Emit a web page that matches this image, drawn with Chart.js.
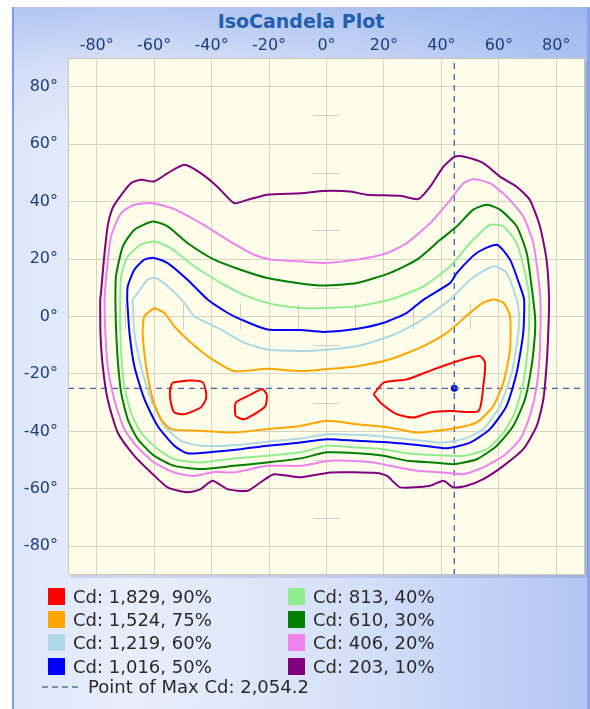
<!DOCTYPE html>
<html>
<head>
<meta charset="utf-8">
<title>IsoCandela Plot</title>
<script src="https://cdn.jsdelivr.net/npm/chart.js@4.4.1/dist/chart.umd.min.js"></script>
<style>
  html, body { margin: 0; padding: 0; background: #fff; }
  body { width: 590px; height: 709px; position: relative; overflow: hidden; font-family: "DejaVu Sans", sans-serif; }
  #panel {
    position: absolute; left: 12px; top: 7px; width: 573px; height: 702px;
    border-left: 2px solid #7f9de2; border-right: 3px solid #8aa5ea;
    background:
      linear-gradient(to bottom, rgba(140,170,235,0.55) 0px, rgba(140,170,235,0.15) 60px, rgba(140,170,235,0) 120px),
      linear-gradient(to right, #dde6f9 0%, #e9eefb 20%, #d5e0f8 60%, #b3c6f3 100%);
  }
  #title {
    position: absolute; left: 12px; width: 578px; top: 9px; text-align: center;
    font-weight: bold; font-size: 19px; line-height: 24px; color: #2160b0;
  }
  #chart { position: absolute; left: 0; top: 0; }
  .leg-row {
    position: absolute; height: 23px; display: flex; align-items: center;
    font-size: 18px; color: #2a2a2a; white-space: nowrap;
  }
  .swatch { width: 17px; height: 17px; margin-right: 8px; display: inline-block; }
  .dash { width: 40px; height: 2px; margin-right: 6px; display: inline-block;
    background: repeating-linear-gradient(to right, #8290b0 0 6px, transparent 6px 10px); }
</style>
</head>
<body>
<div id="panel"></div>
<div id="title">IsoCandela Plot</div>
<canvas id="chart" width="590" height="709"></canvas>
<div id="legend"></div>
<script>
(() => {
  'use strict'

  const axisMin = -90
  const axisMax = 90
  const xTickValues = [-80, -60, -40, -20, 0, 20, 40, 60, 80]
  const yTickValues = [-80, -60, -40, -20, 0, 20, 40, 60, 80]
  const minorTickValues = [-70, -50, -30, -10, 10, 30, 50, 70]

  const levelCd = [1829, 1524, 1219, 1016, 813, 610, 406, 203]
  const levelPct = [90, 75, 60, 50, 40, 30, 20, 10]
  const levelColors = ['#ff0000', '#ffa500', '#add8e6', '#0000ff', '#90ee90', '#008000', '#ee82ee', '#800080']

  const maxCd = 2054.2
  const maxPoint = [44.5, -25]

  // contour outlines, [horizontal angle, vertical angle]
  const cd1829a = [[-53.6,-23.0],[-48,-22.3],[-43.2,-22.8],[-42.0,-26],[-42.0,-28.8],[-43.8,-31.7],[-49.5,-34.0],[-53.0,-33.4],[-54.4,-28.8],[-54.4,-25]]
  const cd1829b = [[-22.3,-25.1],[-20.8,-27.1],[-21.2,-31.1],[-24.1,-33.4],[-28.7,-35.8],[-31.6,-34.6],[-31.6,-30.0],[-27.5,-27.7]]
  const cd1829c = [[16.4,-27.1],[19.9,-23.0],[28.0,-21.9],[37.3,-18.4],[47.7,-14.9],[53.5,-13.8],[55.2,-16.1],[54.6,-24.2],[52.9,-32.9],[43.1,-32.9],[36.1,-33.4],[30.3,-35.2],[24.5,-34.0],[18.8,-30.0]]

  const cd1524 = [[-60.0,3.0],[-56.5,1.3],[-53.0,-3.4],[-48.4,-8.0],[-41.4,-13.8],[-32.2,-19.0],[-20.6,-18.2],[-9.0,-19.0],[-0.9,-18.4],[10.7,-17.3],[22.2,-14.9],[33.8,-10.3],[41.9,-5.7],[50.0,1.3],[54.6,4.8],[58.1,5.9],[61.6,4.8],[63.9,0.1],[63.9,-11.5],[61.6,-23.0],[58.1,-31.1],[52.3,-36.9],[43.1,-39.2],[31.5,-40.4],[22.2,-38.7],[10.7,-37.5],[0.2,-36.3],[-9.0,-38.1],[-20.6,-39.2],[-32.2,-40.4],[-43.8,-39.8],[-54.2,-39.2],[-57.6,-35.8],[-60.5,-28.8],[-62.8,-17.3],[-64.0,-5.7],[-63.4,0.1]]

  const cd1219 = [[-67.5,5.9],[-65.7,8.2],[-62.3,12.8],[-59.4,13.4],[-55.3,10.5],[-49.5,4.8],[-46.1,0.1],[-41,-2.5],[-36.8,-4.5],[-28.7,-9.1],[-20.6,-11.5],[-9.0,-12.0],[-0.9,-11.7],[10.7,-10.3],[22.2,-6.8],[31.5,-2.2],[38.4,2.4],[43.1,5.9],[50.0,12.8],[58.1,17.5],[62.7,15.2],[66.2,5.9],[67.1,0],[66.8,-5.7],[64.5,-19.6],[60.4,-31.1],[54.6,-39.2],[47.7,-42.7],[39.6,-43.9],[28.0,-42.7],[16.4,-41.5],[0.2,-41.0],[-9.0,-42.5],[-20.6,-43.6],[-32.2,-44.8],[-43.8,-45.0],[-50.7,-43.3],[-56.5,-38.1],[-61.1,-28.8],[-64.6,-17.3],[-66.9,-5.7]]

  const cd1016 = [[-69.4,5.9],[-69.2,10.5],[-66.9,16.3],[-63.4,19.8],[-60.0,20.4],[-55.3,18.6],[-48.4,12.8],[-41.4,5.9],[-34.5,1.3],[-29.9,-1.0],[-20.6,-4.5],[-9.0,-4.7],[-0.9,-5.4],[10.7,-4.3],[19.9,-2.2],[28.0,1.3],[33.8,5.9],[43.1,11.7],[45.4,15.2],[52.3,22.1],[59.3,25.0],[63.9,19.8],[67.4,10.5],[68.8,5.9],[68.5,-5.7],[66.2,-19.6],[62.7,-31.1],[56.9,-39.2],[50.0,-43.9],[41.9,-45.9],[33.8,-45.0],[22.2,-43.9],[10.7,-43.3],[0.2,-42.7],[-9.0,-43.9],[-20.6,-45.0],[-29.9,-46.2],[-39.1,-47.1],[-48.4,-47.6],[-53.0,-45.0],[-58.8,-38.1],[-63.4,-28.8],[-66.9,-17.3],[-68.6,-5.7]]

  const cd813 = [[-71.9,-1.0],[-71.5,14.0],[-69.2,20.9],[-64.6,25.0],[-60.0,26.1],[-54.2,23.8],[-46.1,17.5],[-36.8,11.7],[-27.5,7.0],[-18.3,4.2],[-9.0,3.0],[-0.9,3.0],[10.7,3.6],[22.2,5.9],[33.8,10.5],[43.1,17.5],[50.0,25.6],[56.9,31.9],[61.6,31.4],[66.2,25.6],[69.1,15.2],[70.6,5.9],[70.3,-8.0],[68.5,-23.0],[65.6,-33.4],[61.6,-40.4],[55.8,-46.2],[47.7,-48.5],[38.4,-48.3],[28.0,-47.6],[19.9,-46.2],[10.7,-45.6],[0.2,-45.0],[-9.0,-47.3],[-20.6,-48.5],[-32.2,-49.4],[-43.8,-50.8],[-53.0,-49.7],[-58.8,-46.2],[-64.6,-40.4],[-68.1,-33.4],[-70.4,-24.2],[-71.5,-12.6]]

  const cd610 = [[-73.5,5.9],[-73.3,14.0],[-70.9,24.4],[-66.9,30.2],[-60.5,33.1],[-55.3,31.4],[-48.4,25.6],[-39.1,19.8],[-29.9,16.3],[-20.6,13.4],[-9.0,11.5],[-0.9,10.8],[10.7,11.7],[22.2,15.2],[31.5,19.8],[39.6,26.7],[45.4,31.4],[51.1,37.2],[55.8,38.9],[60.4,37.2],[66.2,31.4],[69.7,22.1],[71.4,10.5],[72.6,0],[72.6,-5.7],[71.4,-17.3],[69.1,-28.8],[65.0,-38.1],[59.3,-45.0],[52.3,-49.7],[44.2,-51.4],[37.3,-50.8],[28.0,-50.2],[19.9,-48.5],[10.7,-47.6],[0.2,-47.3],[-9.0,-49.4],[-20.6,-50.8],[-32.2,-52.0],[-43.8,-53.1],[-53.0,-52.0],[-60.0,-48.5],[-65.7,-42.7],[-69.2,-35.8],[-71.5,-26.5],[-72.7,-14.9],[-73.3,-3.4]]

  const cd406 = [[-77.3,5.9],[-76.7,14.0],[-75.0,27.9],[-71.5,36.0],[-66.9,38.9],[-61.1,39.5],[-53.0,37.4],[-43.8,32.5],[-34.5,26.7],[-25.2,21.5],[-19.4,19.8],[-9.0,19.2],[-0.9,18.6],[10.7,19.8],[21.1,22.1],[28.0,25.6],[36.1,32.5],[43.1,40.6],[47.7,46.4],[51.1,47.8],[56.9,46.4],[62.7,41.8],[68.5,34.8],[72.0,25.6],[73.7,14.0],[74.5,5.9],[74.3,-11.5],[73.2,-24.2],[70.8,-34.6],[67.4,-42.7],[61.6,-48.5],[54.6,-52.5],[47.7,-54.9],[40.7,-54.3],[31.5,-53.7],[22.2,-52.0],[16.4,-50.8],[1.4,-50.2],[-9.0,-52.0],[-20.6,-52.0],[-32.2,-54.3],[-39.1,-54.1],[-46.1,-55.5],[-53.0,-54.3],[-60.0,-50.8],[-65.7,-45.6],[-70.4,-39.2],[-73.9,-28.8],[-76.2,-17.3],[-77.1,-3.4]]

  const cd203 = [[-78.8,5.9],[-78.5,8.3],[-77.5,19.8],[-76.2,31.4],[-74.7,37.2],[-72.7,40.6],[-68.1,46.4],[-64.6,47.6],[-60.0,47.0],[-55.3,49.9],[-49.5,52.8],[-43.8,49.9],[-38.0,45.2],[-32.2,39.5],[-27.5,40.6],[-20.6,42.4],[-9.0,42.9],[-0.9,43.7],[8.3,43.5],[14.1,42.4],[25.7,42.0],[32.0,40.9],[36.1,45.2],[40.7,52.2],[44.8,55.7],[47.7,55.7],[54.6,53.4],[60.4,48.7],[66.2,45.2],[70.8,40.6],[74.3,31.4],[76.6,19.8],[77.5,5.9],[77.2,-5.7],[76.6,-17.3],[75.5,-28.8],[73.2,-38.1],[68.5,-46.2],[61.6,-52.0],[54.6,-56.6],[48.8,-58.9],[44.2,-59.5],[40.7,-57.2],[36.1,-58.9],[25.7,-59.5],[21.1,-55.5],[17.6,-54.5],[1.4,-54.3],[-9.0,-56.0],[-18.3,-54.9],[-22.9,-57.7],[-27.5,-60.7],[-34.5,-60.1],[-39.7,-57.2],[-43.8,-60.1],[-48.4,-61.2],[-55.3,-59.5],[-61.1,-54.3],[-66.9,-48.5],[-72.7,-40.4],[-76.2,-28.8],[-77.9,-17.3],[-78.7,-5.7]]

  const levelContours = [[cd1829a, cd1829b, cd1829c], [cd1524], [cd1219], [cd1016], [cd813], [cd610], [cd406], [cd203]]

  const fontFamily = '"DejaVu Sans", sans-serif'
  const tickColor = '#1e3d7a'

  const datasets = []
  levelContours.forEach((loops, i) => {
    loops.forEach(pts => {
      datasets.push({
        data: pts.concat([pts[0]]),
        showLine: true,
        borderColor: levelColors[i],
        borderWidth: 2,
        pointRadius: 0,
        tension: 0.2,
        fill: false
      })
    })
  })

  // crosshair through the max point
  datasets.push({
    data: [[maxPoint[0], axisMin], [maxPoint[0], axisMax]],
    showLine: true, borderColor: '#4d5db0', borderWidth: 1.3, borderDash: [6, 5], pointRadius: 0
  })
  datasets.push({
    data: [[axisMin, maxPoint[1]], [axisMax, maxPoint[1]]],
    showLine: true, borderColor: '#4d5db0', borderWidth: 1.3, borderDash: [6, 5], pointRadius: 0
  })
  datasets.push({
    data: [maxPoint],
    pointRadius: 3.5, pointBackgroundColor: '#0010d0', pointBorderWidth: 0
  })

  const plotFrame = {
    id: 'plotFrame',
    beforeDraw(chart) {
      const { ctx, chartArea: a } = chart
      ctx.save()
      ctx.fillStyle = 'rgba(60,80,140,0.15)'
      ctx.fillRect(a.left + 3, a.top + 3, a.width, a.height)
      ctx.fillStyle = '#fdfde9'
      ctx.fillRect(a.left, a.top, a.width, a.height)
      ctx.restore()
    },
    beforeDatasetsDraw(chart) {
      const { ctx, scales } = chart
      const x0 = scales.x.getPixelForValue(0)
      const y0 = scales.y.getPixelForValue(0)
      ctx.save()
      ctx.strokeStyle = '#cfcfc8'
      ctx.lineWidth = 1
      ctx.beginPath()
      minorTickValues.forEach(v => {
        const py = Math.round(scales.y.getPixelForValue(v)) + 0.5
        ctx.moveTo(x0 - 13, py)
        ctx.lineTo(x0 + 13, py)
        const px = Math.round(scales.x.getPixelForValue(v)) + 0.5
        ctx.moveTo(px, y0 - 13)
        ctx.lineTo(px, y0 + 13)
      })
      ctx.stroke()
      ctx.restore()
    },
    afterDraw(chart) {
      const { ctx, chartArea: a } = chart
      ctx.save()
      ctx.strokeStyle = '#c9c6b4'
      ctx.lineWidth = 1
      ctx.strokeRect(a.left + 0.5, a.top + 0.5, a.width - 1, a.height - 1)
      ctx.restore()
    }
  }

  new Chart(document.getElementById('chart'), {
    type: 'scatter',
    data: { datasets: datasets },
    options: {
      responsive: false,
      animation: false,
      devicePixelRatio: 1,
      layout: { padding: { left: 0, top: 0, right: 5, bottom: 134 } },
      scales: {
        x: {
          type: 'linear',
          position: 'top',
          min: axisMin,
          max: axisMax,
          afterBuildTicks: s => { s.ticks = xTickValues.map(v => ({ value: v })) },
          afterFit: s => { s.height = 58 },
          grid: { color: '#d8d4c2', drawTicks: false },
          border: { display: false },
          ticks: { callback: v => v + '°', color: tickColor, padding: 3, font: { family: fontFamily, size: 16 } }
        },
        y: {
          type: 'linear',
          position: 'left',
          min: axisMin,
          max: axisMax,
          afterBuildTicks: s => { s.ticks = yTickValues.map(v => ({ value: v })) },
          afterFit: s => { s.width = 68 },
          grid: { color: '#d8d4c2', drawTicks: false },
          border: { display: false },
          ticks: { callback: v => v + '°', color: tickColor, padding: 10, font: { family: fontFamily, size: 16 } }
        }
      },
      plugins: {
        legend: { display: false },
        tooltip: { enabled: false },
        title: { display: false }
      }
    },
    plugins: [plotFrame]
  })

  // legend, two columns then the max line
  const legendElem = document.getElementById('legend')
  levelCd.forEach((cd, i) => {
    const col = Math.floor(i / 4)
    const row = i % 4
    const div = document.createElement('div')
    div.className = 'leg-row'
    div.style.left = (col ? 288 : 48) + 'px'
    div.style.top = (585 + row * 23.2) + 'px'
    div.innerHTML = '<span class="swatch" style="background:' + levelColors[i] + '"></span>' +
      'Cd: ' + cd.toLocaleString('en-US') + ', ' + levelPct[i] + '%'
    legendElem.appendChild(div)
  })
  const maxRow = document.createElement('div')
  maxRow.className = 'leg-row'
  maxRow.style.left = '42px'
  maxRow.style.top = (585 + 4 * 22.6) + 'px'
  maxRow.innerHTML = '<span class="dash"></span>Point of Max Cd: ' +
    maxCd.toLocaleString('en-US', { minimumFractionDigits: 1 })
  legendElem.appendChild(maxRow)
})()
</script>
</body>
</html>
